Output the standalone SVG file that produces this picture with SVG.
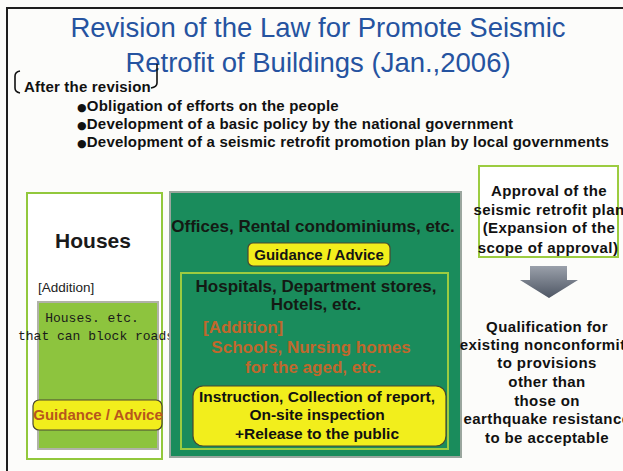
<svg xmlns="http://www.w3.org/2000/svg" width="623" height="471" viewBox="0 0 623 471">
<style>
.t{font-family:"Liberation Sans",Arial,sans-serif}
.b{font-family:"Liberation Sans",Arial,sans-serif;font-weight:bold}
.title{font-size:27.5px;fill:#2553a0;text-anchor:middle}
.bul{font-size:15px;letter-spacing:0.2px;fill:#111}
.dot{font-family:"DejaVu Sans",sans-serif;font-size:11px}
.yb{fill:#f2ee1c;stroke:#4a4630;stroke-width:1.2}
.rt{font-size:15px;fill:#111;text-anchor:middle;letter-spacing:0.4px}
.or{fill:#c0682c}
</style>
<defs>
<linearGradient id="ag" x1="0" y1="0" x2="0" y2="1">
<stop offset="0" stop-color="#9aa0aa"/>
<stop offset="1" stop-color="#4e5664"/>
</linearGradient>
</defs>
<rect width="623" height="471" fill="#fcfcfa"/>
<path d="M7,471 L7,8 L623,8" fill="none" stroke="#1e1e1e" stroke-width="2"/>

<g id="title">
<text class="t title" x="318" y="37">Revision of the Law for Promote Seismic</text>
<text class="t title" x="318" y="72">Retrofit of Buildings (Jan.,2006)</text>
</g>

<g id="after">
<path d="M20,71 Q15,72 15,76 L15,88 Q15,92 20,93" fill="none" stroke="#111" stroke-width="1.6"/>
<path d="M157,64 L157,83 Q157,87 151,88" fill="none" stroke="#111" stroke-width="1.6"/>
<text class="b" x="24" y="92" font-size="15" fill="#111" letter-spacing="0.2">After the revision</text>
<text class="b bul" x="77" y="111"><tspan class="dot">●</tspan>Obligation of efforts on the people</text>
<text class="b bul" x="77" y="129"><tspan class="dot">●</tspan>Development of a basic policy by the national government</text>
<text class="b bul" x="77" y="147"><tspan class="dot">●</tspan>Development of a seismic retrofit promotion plan by local governments</text>
</g>

<g id="houses">
<rect x="27" y="193" width="135" height="266" fill="#ffffff" stroke="#92c83c" stroke-width="2"/>
<text class="b" x="93" y="248" font-size="21" fill="#1a1a1a" text-anchor="middle">Houses</text>
<text class="t" x="38" y="292" font-size="13.5" fill="#222">[Addition]</text>
<rect x="38" y="302" width="120" height="147" fill="#8dc43e" stroke="#b0b2a8" stroke-width="2"/>
<text x="92" y="322" font-family="'Liberation Mono',monospace" font-size="13" fill="#1a1a1a" text-anchor="middle">Houses. etc.</text>
<text x="96" y="340" font-family="'Liberation Mono',monospace" font-size="13" fill="#1a1a1a" text-anchor="middle">that can block roads</text>
<rect class="yb" x="33" y="400" width="129" height="30" rx="6"/>
<text class="b" x="98" y="420" font-size="15" fill="#b8561c" text-anchor="middle">Guidance / Advice</text>
</g>

<g id="offices">
<rect x="170" y="192" width="291" height="265" fill="#1a8c5c" stroke="#9aa69e" stroke-width="2"/>
<text class="b" x="313" y="232" font-size="17" fill="#141a14" text-anchor="middle">Offices, Rental condominiums, etc.</text>
<rect class="yb" x="248" y="243" width="142" height="23" rx="5"/>
<text class="b" x="319" y="260" font-size="15" fill="#141414" text-anchor="middle">Guidance / Advice</text>
</g>

<g id="hospitals">
<rect x="181" y="273" width="267" height="176" fill="none" stroke="#9ccc40" stroke-width="2"/>
<text class="b" x="316" y="292" font-size="17" fill="#141a14" text-anchor="middle">Hospitals, Department stores,</text>
<text class="b" x="316" y="310" font-size="17" fill="#141a14" text-anchor="middle">Hotels, etc.</text>
<text class="b or" x="203" y="333" font-size="17">[Addition]</text>
<text class="b or" x="311" y="353" font-size="17" text-anchor="middle">Schools, Nursing homes</text>
<text class="b or" x="313" y="373" font-size="17" text-anchor="middle">for the aged, etc.</text>
<rect class="yb" x="193" y="386" width="253" height="60" rx="10"/>
<text class="b" x="317" y="402" font-size="15.5" fill="#111" text-anchor="middle">Instruction, Collection of report,</text>
<text class="b" x="317" y="420" font-size="15.5" fill="#111" text-anchor="middle">On-site inspection</text>
<text class="b" x="317" y="439" font-size="15.5" fill="#111" text-anchor="middle">+Release to the public</text>
</g>

<g id="approval">
<rect x="479" y="166" width="139" height="91" fill="#ffffff" stroke="#9ccc40" stroke-width="2"/>
<text class="b rt" x="549" y="196">Approval of the</text>
<text class="b rt" x="549" y="215">seismic retrofit plan</text>
<text class="b rt" x="549" y="233">(Expansion of the</text>
<text class="b rt" x="548" y="253">scope of approval)</text>
</g>

<g id="connectors">
<path d="M530,266 L567,266 L567,280 L578,280 L549,298 L520,280 L530,280 Z" fill="url(#ag)"/>
</g>

<g id="qualification">
<text class="b rt" x="547" y="332">Qualification for</text>
<text class="b rt" x="547" y="350">existing nonconformity</text>
<text class="b rt" x="547" y="368">to provisions</text>
<text class="b rt" x="547" y="387">other than</text>
<text class="b rt" x="547" y="406">those on</text>
<text class="b rt" x="547" y="424">earthquake resistance</text>
<text class="b rt" x="547" y="443">to be acceptable</text>
</g>
</svg>
